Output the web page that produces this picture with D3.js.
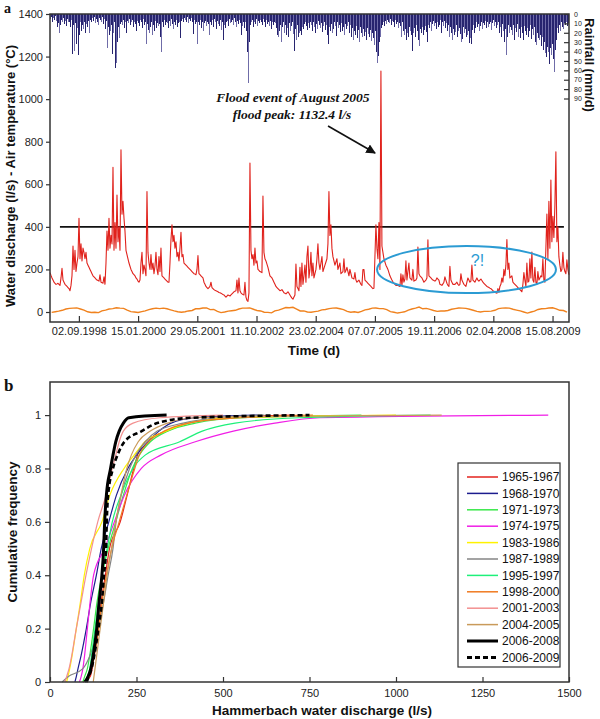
<html>

<head>
    <script src="https://d3js.org/d3.v7.min.js"></script>
    <style>
        body { margin: 0; background: #fff; }
        text { font-family: "Liberation Sans", Arial, sans-serif; fill: #111; }
        .axis text { font-size: 11px; fill: #222; }
        .axis .domain { display: none; }
        .axis line { stroke: #333; stroke-width: 1.2; }
        .rainaxis text { font-size: 7px; }
    </style>
</head>

<body>
    <svg id="chart" width="600" height="719"></svg>
    <script>
        const seriesStart = "1998-01-01";
        const seriesEnd = "2009-12-31";

        const discharge = [
            185,172,160,150,140,135,130,132,135,130,125,160,205,150,140,130,125,120,115,110,
            100,125,170,310,200,290,190,230,260,440,250,320,240,300,280,250,280,230,220,210,
            200,190,180,170,165,160,155,150,148,145,175,140,138,135,165,130,230,380,290,440,
            300,360,320,680,290,420,300,550,330,400,290,762,460,520,440,380,290,270,250,230,
            215,200,190,180,175,170,160,155,145,140,150,230,280,180,220,200,170,566,280,230,
            200,270,200,230,180,215,280,200,175,260,190,300,170,165,160,155,150,145,140,140,
            230,340,410,330,360,300,330,260,280,240,300,375,260,270,230,225,220,215,210,205,
            200,195,190,185,180,178,175,200,265,180,175,170,165,160,140,130,120,115,110,115,
            120,140,115,110,105,102,100,98,95,92,90,88,85,82,80,75,70,75,80,78,
            75,80,85,90,95,98,100,150,90,160,100,90,85,82,80,140,70,55,50,90,
            700,290,250,270,220,300,230,240,200,195,190,188,185,545,280,250,240,225,210,190,
            170,165,160,150,140,130,120,115,110,105,100,102,105,98,90,88,85,90,95,88,
            80,72,65,60,70,80,225,120,110,100,210,120,230,130,170,220,140,260,310,160,
            200,280,170,230,160,180,200,250,320,230,200,230,260,190,205,220,235,250,320,566,
            360,410,300,260,240,220,235,250,200,215,230,180,185,190,250,185,195,210,190,170,
            200,180,160,158,155,185,150,140,145,150,140,130,125,200,200,150,145,140,135,130,
            125,120,115,110,112,260,410,300,250,420,200,1132.4,310,280,250,235,220,210,200,185,
            170,160,150,142,135,130,125,125,125,122,120,180,125,175,140,155,240,150,190,230,
            160,155,150,200,145,148,150,160,305,180,170,165,160,150,140,145,150,160,339,170,
            165,160,155,150,148,145,150,160,155,150,130,128,125,132,140,165,150,135,125,120,
            215,150,140,130,130,130,135,140,130,125,130,180,150,140,130,125,120,140,160,150,
            140,145,220,150,145,140,150,160,150,145,150,155,148,140,135,130,125,120,118,115,
            112,110,105,100,98,92,90,88,110,92,120,130,160,140,200,170,220,340,200,230,
            160,165,170,140,135,130,125,120,115,110,105,100,95,130,185,150,120,230,140,145,
            250,160,282,150,140,210,140,130,190,150,160,170,165,250,150,140,300,460,250,520,
            300,620,330,450,350,500,753,330,400,260,220,190,200,280,210,190,180,245,200,175
        ];

        const rainfall = [
            2,5,3,8,4,6,2,7,14,10,20,12,6,9,4,11,7,13,5,9,
            8,14,6,43,12,39,10,32,15,44,22,9,18,12,16,8,20,11,14,7,
            20,6,9,4,7,3,10,5,8,12,4,6,9,3,11,5,16,7,36,14,
            22,18,12,43,20,9,57,52,30,14,26,11,8,12,6,15,9,20,7,10,
            5,12,8,6,14,9,11,18,7,10,13,6,9,15,5,12,8,32,11,17,
            20,14,9,22,12,18,7,15,10,13,11,24,41,9,14,6,12,8,10,15,
            7,13,5,11,16,9,12,6,14,10,8,26,7,5,9,4,6,8,3,10,
            5,7,4,9,21,6,11,8,32,9,12,6,15,8,18,10,7,13,9,11,
            22,8,12,6,14,5,9,16,7,11,13,6,17,8,28,12,15,9,7,13,
            5,10,8,6,12,4,9,14,7,11,6,10,22,13,9,15,8,18,40,74,
            30,12,9,6,14,8,11,5,13,7,10,6,9,12,5,8,14,6,11,9,
            13,7,16,9,12,8,10,15,22,25,18,12,30,14,9,20,12,22,15,24,
            10,18,13,9,21,39,16,28,12,24,20,18,22,14,16,11,9,13,17,10,
            15,8,12,18,9,14,20,11,16,7,12,15,10,19,13,8,17,12,22,32,
            14,18,11,20,16,9,13,23,8,15,12,19,10,18,14,22,11,16,13,9,
            20,12,24,15,28,18,22,13,26,17,30,14,20,25,16,23,19,28,15,21,
            24,17,29,20,26,33,18,40,52,45,30,24,15,12,9,13,7,11,6,8,
            10,5,12,7,9,14,6,11,8,15,10,13,24,9,18,22,16,28,20,25,
            14,18,22,39,20,15,25,12,18,28,34,16,20,14,22,17,13,19,30,12,
            15,9,18,11,7,13,10,16,8,14,12,6,20,9,13,7,15,10,18,12,
            25,14,20,28,16,22,19,12,24,18,15,21,30,27,14,20,16,25,22,18,
            31,26,32,17,12,20,15,9,14,11,18,13,8,16,10,12,7,15,9,14,
            11,8,17,10,6,13,9,15,12,8,20,14,24,11,18,30,16,44,25,12,
            20,14,17,22,12,28,15,19,11,24,16,26,14,20,28,13,18,22,15,25,
            18,12,27,16,22,14,30,33,20,26,28,22,34,25,38,30,42,46,35,40,
            53,36,44,32,48,62,38,28,15,20,12,18,9,14,16,10,12,8,13,10
        ];

        // monthly air temperature, Jan 1998 .. Dec 2009
        const temperature = [
            -2,1,4,8,14,17,18,19,14,9,1,-2,
            -1,-3,5,9,14,16,20,18,17,9,2,0,
            -2,2,5,11,15,18,16,18,15,10,5,1,
            -1,1,5,7,15,15,19,19,11,12,3,-3,
            0,4,6,8,14,18,18,19,13,7,5,-1,
            -2,-4,5,9,15,21,20,22,14,5,5,0,
            -1,2,4,10,12,16,18,19,15,11,3,-1,
            1,-2,3,10,13,18,19,16,16,11,2,-1,
            -5,-2,1,9,14,18,23,15,17,12,7,3,
            5,5,7,13,16,19,18,17,13,8,3,0,
            3,3,4,8,16,18,19,18,13,9,5,0,
            -5,0,4,12,15,16,19,20,15,8,7,-1
        ];

        const timeTicks = ["1998-09-02", "2000-01-15", "2001-05-29", "2002-10-11", "2004-02-23",
            "2005-07-07", "2006-11-19", "2008-04-02", "2009-08-15"];
        const dischargeTicks = [0, 200, 400, 600, 800, 1000, 1200, 1400];
        const rainTicks = [0, 10, 20, 30, 40, 50, 60, 70, 80, 90];
        const threshold = 400;

        // ---- panel b data: cumulative frequency vs discharge (l/s) ----
        const periods = ["1965-1967", "1968-1970", "1971-1973", "1974-1975", "1983-1986", "1987-1989",
            "1995-1997", "1998-2000", "2001-2003", "2004-2005", "2006-2008", "2006-2009"];
        const periodColors = ["#e3231e", "#1c1c8e", "#39e84a", "#f01ee6", "#fff200", "#858585",
            "#1ef07a", "#f07a20", "#f39090", "#c99a5a", "#000000", "#000000"];
        const freqLevels = [0, 0.02, 0.05, 0.1, 0.2, 0.3, 0.4, 0.5, 0.6, 0.7, 0.8, 0.85, 0.9, 0.94, 0.97, 0.99, 1];
        const q6567 = [96, 116, 122, 128, 140, 148, 160, 172, 203, 223, 242, 253, 275, 337, 400, 520, 700];
        const q6870 = [72, 76, 81, 90, 105, 118, 134, 148, 170, 192, 225, 250, 283, 315, 350, 420, 600];
        const q7173 = [95, 100, 108, 115, 126, 136, 150, 168, 190, 212, 238, 258, 290, 340, 420, 560, 900];
        const q7475 = [85, 90, 95, 100, 108, 116, 126, 158, 186, 215, 264, 320, 420, 530, 650, 780, 1440];
        const q8386 = [48, 52, 57, 64, 76, 88, 99, 115, 150, 173, 214, 243, 275, 335, 400, 520, 1000];
        const q8789 = [35, 52, 95, 116, 140, 155, 168, 182, 191, 206, 230, 248, 275, 310, 385, 480, 620];
        const q9597 = [100, 108, 115, 120, 130, 140, 150, 165, 180, 205, 240, 275, 375, 440, 535, 720, 1100];
        const q9800 = [106, 112, 120, 128, 140, 150, 163, 178, 200, 222, 245, 258, 285, 330, 400, 550, 760];
        const q0103 = [43, 48, 55, 63, 76, 90, 104, 120, 138, 162, 180, 190, 200, 212, 240, 318, 500];
        const q0405 = [125, 127, 130, 135, 145, 155, 165, 178, 190, 205, 222, 235, 255, 290, 340, 420, 1132];
        const q0608 = [101, 110, 118, 125, 135, 142, 150, 155, 158, 163, 175, 182, 190, 200, 212, 228, 337];
        const q0609 = [106, 112, 120, 128, 140, 150, 156, 162, 164, 168, 182, 195, 215, 265, 310, 410, 750];
        const freqTicksX = [0, 250, 500, 750, 1000, 1250, 1500];
        const freqTicksY = [0, 0.2, 0.4, 0.6, 0.8, 1];

        const svg = d3.select("#chart");
        const left = 50, right = 569;
        const topA = 14, bottomA = 322;
        const topB = 382, bottomB = 682;

        const parseDay = d3.timeParse("%Y-%m-%d");
        const t0 = parseDay(seriesStart), t1 = parseDay(seriesEnd);
        const sampleDate = (i, n) => new Date(+t0 + (t1 - t0) * i / (n - 1));

        const xTime = d3.scaleTime()
            .domain([parseDay("1998-01-01"), parseDay("2010-01-01")])
            .range([left, right]);
        const yDis = d3.scaleLinear().domain([-47, 1400]).range([bottomA, topA]);
        const yRain = d3.scaleLinear().domain([0, 90]).range([topA, 98.5]);

        //rainfall bars hanging from the top
        svg.append("g").selectAll("line")
            .data(rainfall)
            .join("line")
            .attr("x1", (d, i) => xTime(sampleDate(i, rainfall.length)))
            .attr("x2", (d, i) => xTime(sampleDate(i, rainfall.length)))
            .attr("y1", yRain(0))
            .attr("y2", d => yRain(d))
            .attr("stroke", (d, i) => i % 3 === 1 ? "#6f6ca8" : "#27246f")
            .attr("stroke-width", 1)
            .attr("shape-rendering", "crispEdges");

        //air temperature
        const tempLine = d3.line()
            .x((d, i) => xTime(new Date(1998, i, 15)))
            .y(d => yDis(d));
        svg.append("path")
            .attr("d", tempLine(temperature))
            .attr("fill", "none")
            .attr("stroke", "#f0821e")
            .attr("stroke-width", 1.4);

        //400 l/s line
        svg.append("line")
            .attr("x1", xTime(parseDay("1998-03-26")))
            .attr("x2", xTime(parseDay("2009-11-19")))
            .attr("y1", yDis(threshold))
            .attr("y2", yDis(threshold))
            .attr("stroke", "#111")
            .attr("stroke-width", 1.6);

        //discharge
        const disLine = d3.line()
            .x((d, i) => xTime(sampleDate(i, discharge.length)))
            .y(d => yDis(d));
        svg.append("path")
            .attr("d", disLine(discharge))
            .attr("fill", "none")
            .attr("stroke", "#e0221c")
            .attr("stroke-width", 1.1)
            .attr("stroke-linejoin", "round");

        //ellipse "?!"
        const ex0 = xTime(parseDay("2005-07-25")), ex1 = xTime(parseDay("2009-09-13"));
        const ey0 = yDis(310), ey1 = yDis(89);
        svg.append("ellipse")
            .attr("cx", (ex0 + ex1) / 2)
            .attr("cy", (ey0 + ey1) / 2)
            .attr("rx", (ex1 - ex0) / 2)
            .attr("ry", (ey1 - ey0) / 2)
            .attr("fill", "none")
            .attr("stroke", "#2b9bd3")
            .attr("stroke-width", 2);
        svg.append("text")
            .attr("x", xTime(parseDay("2007-11-20")))
            .attr("y", yDis(215))
            .attr("text-anchor", "middle")
            .style("font-size", "16px")
            .style("fill", "#2b9bd3")
            .text("?!");

        //flood annotation
        svg.append("defs").append("marker")
            .attr("id", "arrow")
            .attr("viewBox", "0 0 10 10")
            .attr("refX", 9).attr("refY", 5)
            .attr("markerWidth", 6).attr("markerHeight", 6)
            .attr("orient", "auto")
            .append("path")
            .attr("d", "M0,0 L10,5 L0,10 z")
            .attr("fill", "#111");
        svg.append("line")
            .attr("x1", xTime(parseDay("2004-06-06")))
            .attr("y1", yDis(874))
            .attr("x2", xTime(parseDay("2005-07-08")))
            .attr("y2", yDis(747))
            .attr("stroke", "#111")
            .attr("stroke-width", 1.6)
            .attr("marker-end", "url(#arrow)");
        const note = svg.append("text")
            .attr("text-anchor", "middle")
            .style("font-family", "'Liberation Serif', 'Times New Roman', serif")
            .style("font-weight", "bold")
            .style("font-style", "italic")
            .style("font-size", "13.5px");
        note.append("tspan").attr("x", 293).attr("y", 102).text("Flood event of August 2005");
        note.append("tspan").attr("x", 292).attr("y", 119).text("flood peak: " + d3.format(".1f")(1132.4) + " l/s");

        //axes panel a
        svg.append("g")
            .attr("class", "axis")
            .attr("transform", `translate(${left},0)`)
            .call(d3.axisLeft(yDis).tickValues(dischargeTicks).tickFormat(d3.format("d")).tickSize(4).tickPadding(3));

        svg.append("g")
            .attr("class", "axis")
            .attr("transform", `translate(0,${bottomA})`)
            .call(d3.axisBottom(xTime)
                .tickValues(timeTicks.map(parseDay))
                .tickFormat(d3.timeFormat("%d.%m.%Y"))
                .tickSize(-6).tickPadding(5));

        svg.append("g")
            .attr("class", "axis rainaxis")
            .attr("transform", `translate(${right},0)`)
            .call(d3.axisRight(yRain).tickValues(rainTicks).tickSize(-5).tickPadding(5));

        svg.append("rect")
            .attr("x", left).attr("y", topA)
            .attr("width", right - left).attr("height", bottomA - topA)
            .attr("fill", "none").attr("stroke", "#333").attr("stroke-width", 1.5);

        svg.append("text")
            .attr("transform", `translate(15,${(topA + bottomA) / 2 + 8}) rotate(-90)`)
            .attr("text-anchor", "middle")
            .style("font-size", "13px").style("font-weight", "bold")
            .text("Water discharge (l/s) - Air temperature (°C)");
        svg.append("text")
            .attr("transform", `translate(585,65) rotate(90)`)
            .attr("text-anchor", "middle")
            .style("font-size", "13px").style("font-weight", "bold")
            .text("Rainfall (mm/d)");
        svg.append("text")
            .attr("x", 314).attr("y", 355)
            .attr("text-anchor", "middle")
            .style("font-size", "13.5px").style("font-weight", "bold")
            .text("Time (d)");

        //panel letters
        svg.append("text").attr("x", 4).attr("y", 13)
            .style("font-family", "'Liberation Serif', serif").style("font-weight", "bold").style("font-size", "14px")
            .text("a");
        svg.append("text").attr("x", 4).attr("y", 391)
            .style("font-family", "'Liberation Serif', serif").style("font-weight", "bold").style("font-size", "17px")
            .text("b");

        // ---- panel b ----
        const xQ = d3.scaleLinear().domain([0, 1500]).range([left, right]);
        const yF = d3.scaleLinear().domain([0, 1.124]).range([bottomB, topB]);

        const quantiles = [q6567, q6870, q7173, q7475, q8386, q8789, q9597, q9800, q0103, q0405, q0608, q0609];
        const cdfSeries = periods.map((p, i) => ({
            period: p,
            color: periodColors[i],
            values: quantiles[i].map((q, k) => ({ q: q, f: freqLevels[k] }))
        }));
        const widthOf = p => p === "2006-2008" ? 3 : (p === "2006-2009" ? 2.6 : 1.2);
        const dashOf = p => p === "2006-2009" ? "5,3" : null;

        const cdfLine = d3.line()
            .x(d => xQ(d.q))
            .y(d => yF(d.f))
            .curve(d3.curveMonotoneX);

        svg.append("g").selectAll("path")
            .data(cdfSeries)
            .join("path")
            .attr("d", d => cdfLine(d.values))
            .attr("fill", "none")
            .attr("stroke", d => d.color)
            .attr("stroke-width", d => widthOf(d.period))
            .attr("stroke-dasharray", d => dashOf(d.period));

        svg.append("g")
            .attr("class", "axis")
            .attr("transform", `translate(${left},0)`)
            .call(d3.axisLeft(yF).tickValues(freqTicksY).tickFormat(d3.format("")).tickSize(5).tickPadding(4));
        svg.append("g")
            .attr("class", "axis")
            .attr("transform", `translate(0,${bottomB})`)
            .call(d3.axisBottom(xQ).tickValues(freqTicksX).tickFormat(d3.format("d")).tickSize(-5).tickPadding(7));

        svg.append("rect")
            .attr("x", left).attr("y", topB)
            .attr("width", right - left).attr("height", bottomB - topB)
            .attr("fill", "none").attr("stroke", "#333").attr("stroke-width", 1.5);

        svg.append("text")
            .attr("transform", `translate(17,${(topB + bottomB) / 2}) rotate(-90)`)
            .attr("text-anchor", "middle")
            .style("font-size", "13.5px").style("font-weight", "bold")
            .text("Cumulative frequency");
        svg.append("text")
            .attr("x", 322).attr("y", 715)
            .attr("text-anchor", "middle")
            .style("font-size", "13.5px").style("font-weight", "bold")
            .text("Hammerbach water discharge (l/s)");

        //legend
        const legend = svg.append("g").attr("transform", "translate(458,463)");
        legend.append("rect")
            .attr("width", 102).attr("height", 204)
            .attr("fill", "#fff").attr("stroke", "#333").attr("stroke-width", 1.2);
        const items = legend.selectAll(".item")
            .data(cdfSeries)
            .join("g")
            .attr("class", "item")
            .attr("transform", (d, i) => `translate(0,${14 + i * 16.4})`);
        items.append("line")
            .attr("x1", 9).attr("x2", 40)
            .attr("stroke", d => d.color)
            .attr("stroke-width", d => d.period.startsWith("2006") ? 3 : 1.5)
            .attr("stroke-dasharray", d => d.period === "2006-2009" ? "5,3" : null);
        items.append("text")
            .attr("x", 44).attr("dy", "0.35em")
            .style("font-size", "12px")
            .text(d => d.period);
    </script>
</body>

</html>
